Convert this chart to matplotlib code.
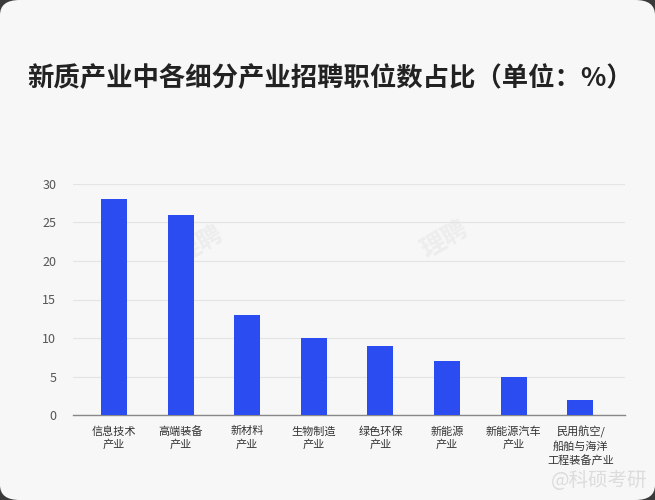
import matplotlib
matplotlib.use("Agg")
import matplotlib.pyplot as plt
from matplotlib.patches import FancyBboxPatch

plt.rcParams['font.family'] = ['Noto Sans CJK SC', 'DejaVu Sans']

categories = ["信息技术\n产业", "高端装备\n产业", "新材料\n产业", "生物制造\n产业",
              "绿色环保\n产业", "新能源\n产业", "新能源汽车\n产业", "民用航空/\n船舶与海洋\n工程装备产业"]
values = [28, 26, 13, 10, 9, 7, 5, 2]
yticks = [0, 5, 10, 15, 20, 25, 30]
title = "新质产业中各细分产业招聘职位数占比（单位：%）"

bg = "#f7f7f7"
fig = plt.figure(figsize=(6.55, 5.0), dpi=100, facecolor="#3a3a3a")
card = FancyBboxPatch((0.0, 0.0), 1.0, 1.0, boxstyle="round,pad=0,rounding_size=0.03",
                      transform=fig.transFigure, facecolor=bg, edgecolor="none", zorder=-10)
fig.patches.append(card)

ax = fig.add_axes([73/655, 1-415/500, 552/655, (415-184)/500])
ax.set_zorder(2)
ax.set_facecolor("none")
x = list(range(len(categories)))
ax.bar(x, values, width=0.39, color="#2b4cf0", zorder=3)
ax.set_xlim(-0.615, 7.67)
ax.set_ylim(0, 30)
ax.set_yticks(yticks)
ax.set_xticks(x)
ax.set_xticklabels(categories, fontsize=8, color="#333333", linespacing=1.35)
ax.tick_params(axis='y', labelsize=9, colors="#555555", length=0, pad=12)
ax.tick_params(axis='x', length=0, pad=8)
ax.grid(axis='y', color="#e4e4e4", linewidth=0.8, zorder=0)
for s in ['top', 'right', 'left']:
    ax.spines[s].set_visible(False)
ax.spines['bottom'].set_color("#888888")
ax.spines['bottom'].set_linewidth(1.0)

fig.text(27/655, 1-78/500, title, fontsize=19, fontweight='bold', color="#222222",
         va='center', ha='left')

# watermarks
fig.text(200/655, 1-245/500, "理聘", fontsize=18, color="#ededed", rotation=30,
         ha='center', va='center', fontweight='bold', zorder=1)
fig.text(445/655, 1-240/500, "理聘", fontsize=18, color="#ededed", rotation=30,
         ha='center', va='center', fontweight='bold', zorder=1)
fig.text(647/655, 1-480/500, "@科硕考研", fontsize=14, color="#dcdcdc",
         ha='right', va='center')

fig.savefig("out.png", dpi=100, facecolor=fig.get_facecolor())
